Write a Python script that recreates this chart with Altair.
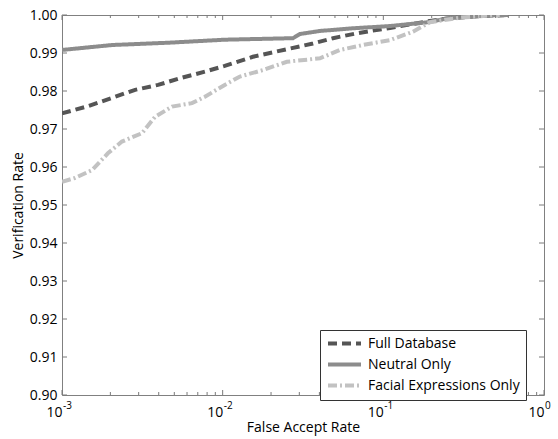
import altair as alt
import pandas as pd

series = ["Full Database", "Neutral Only", "Facial Expressions Only"]
colors = ["#555555", "#8c8c8c", "#c2c2c2"]
dashes = [[9, 5], [1, 0], [9, 3, 2, 3]]

fdb_x = [1e-3, 1.45e-3, 2.05e-3, 2.85e-3, 3.96e-3, 5.58e-3, 7.76e-3, 1.03e-2, 1.54e-2,
         2.51e-2, 3.65e-2, 4.86e-2, 6.85e-2, 8.61e-2, 0.11, 0.15, 0.2, 0.25, 0.4, 0.59]
fdb_y = [0.9741, 0.9760, 0.9782, 0.9803, 0.9816, 0.9835, 0.9851, 0.9866, 0.9890,
         0.9910, 0.9925, 0.9939, 0.9952, 0.9959, 0.9966, 0.9976, 0.9985, 0.9991, 0.9997, 1.0]

neu_x = [1e-3, 2.05e-3, 4.57e-3, 1.03e-2, 2.74e-2, 3.03e-2, 4.03e-2, 6.47e-2, 0.11,
         0.19, 0.25, 0.4, 0.6]
neu_y = [0.9908, 0.9921, 0.9927, 0.9935, 0.9939, 0.9950, 0.9958, 0.9965, 0.9971,
         0.9981, 0.9991, 0.9998, 1.0]

fac_x = [1e-3, 1.2e-3, 1.54e-3, 1.93e-3, 2.36e-3, 3.15e-3, 3.79e-3, 4.84e-3, 6.44e-3,
         7.76e-3, 1.03e-2, 1.28e-2, 1.78e-2, 2.51e-2, 4.03e-2, 5.37e-2, 7.46e-2, 0.11,
         0.153, 0.195, 0.3, 0.4, 0.53]
fac_y = [0.9561, 0.9571, 0.9592, 0.9636, 0.9667, 0.9689, 0.9732, 0.9759, 0.9768,
         0.9785, 0.9816, 0.9838, 0.9855, 0.9877, 0.9886, 0.9908, 0.9921, 0.9934,
         0.9956, 0.9981, 0.9993, 0.9997, 1.0]

x_major = [0.001, 0.01, 0.1, 1.0]
x_exps = ["-3", "-2", "-1", "0"]
x_minor = [k * 10.0 ** e for e in (-3, -2, -1) for k in range(2, 10)]
y_ticks = [0.90, 0.91, 0.92, 0.93, 0.94, 0.95, 0.96, 0.97, 0.98, 0.99, 1.00]

rows = []
for name, xs, ys in [(series[0], fdb_x, fdb_y), (series[1], neu_x, neu_y), (series[2], fac_x, fac_y)]:
    for i, (a, b) in enumerate(zip(xs, ys)):
        rows.append({"series": name, "far": a, "vr": b, "i": i})
df = pd.DataFrame(rows)

W, H = 482, 380
FONT = "Open Sans"
TICK = "#7a7a7a"

xscale = alt.Scale(type="log", domain=[1e-3, 1], nice=False)
yscale = alt.Scale(domain=[0.9, 1.0], nice=False, zero=False)

x_axis = alt.Axis(title="False Accept Rate", values=x_major, labelExpr="'10'",
                  ticks=False, domain=False, grid=False, labelAlign="right",
                  labelBaseline="top", labelPadding=10, labelFont=FONT,
                  labelFontSize=14, labelColor="black", titleFont=FONT,
                  titleFontSize=14, titleFontWeight="normal", titleColor="black",
                  titlePadding=1)
y_axis = alt.Axis(title="Verification Rate", values=y_ticks, format=".2f",
                  ticks=False, domain=False, grid=False, labelFont=FONT,
                  labelFontSize=14, labelColor="black", labelPadding=5,
                  titleFont=FONT, titleFontSize=14, titleFontWeight="normal",
                  titleColor="black", titlePadding=4)

leg = dict(title=None, orient="none", legendX=258, legendY=315,
           symbolType="M-1,0L5,0", symbolSize=121, symbolStrokeWidth=4,
           labelFont=FONT, labelFontSize=14, labelColor="black",
           strokeColor="#333333", fillColor="white", padding=6,
           rowPadding=4, labelOffset=27)

lines = alt.Chart(df).mark_line(strokeWidth=4, clip=True).encode(
    x=alt.X("far:Q", scale=xscale, axis=x_axis),
    y=alt.Y("vr:Q", scale=yscale, axis=y_axis),
    color=alt.Color("series:N", scale=alt.Scale(domain=series, range=colors), legend=alt.Legend(**leg)),
    strokeDash=alt.StrokeDash("series:N", scale=alt.Scale(domain=series, range=dashes), legend=alt.Legend(**leg)),
    order="i:Q",
)

xmaj = pd.DataFrame({"v": x_major, "e": x_exps})
xmin = pd.DataFrame({"v": x_minor})
yt = pd.DataFrame({"v": y_ticks})

def xticks(data, length):
    base = alt.Chart(data).mark_rule(color=TICK, strokeWidth=1)
    enc_x = alt.X("v:Q", scale=xscale, axis=x_axis)
    return (base.encode(x=enc_x, y=alt.value(H), y2=alt.value(H - length)) +
            base.encode(x=enc_x, y=alt.value(0), y2=alt.value(length)))

ytk = alt.Chart(yt).mark_rule(color=TICK, strokeWidth=1)
enc_y = alt.Y("v:Q", scale=yscale, axis=y_axis)
yticks = (ytk.encode(y=enc_y, x=alt.value(0), x2=alt.value(5)) +
          ytk.encode(y=enc_y, x=alt.value(W), x2=alt.value(W - 5)))

exps = alt.Chart(xmaj).mark_text(align="left", baseline="top", font=FONT, fontSize=10,
                                 color="black", dx=1).encode(
    x=alt.X("v:Q", scale=xscale, axis=x_axis), y=alt.value(H + 6), text="e:N")

chart = alt.layer(lines, xticks(xmaj, 5), xticks(xmin, 3), yticks, exps).properties(
    width=W, height=H,
    autosize=alt.AutoSizeParams(type="none"),
    padding={"left": 62, "top": 15, "right": 14, "bottom": 44},
    background="white",
).configure_view(stroke="#808080", strokeWidth=1)

chart.save("out.html", embed_options={"renderer": "svg", "actions": False})
